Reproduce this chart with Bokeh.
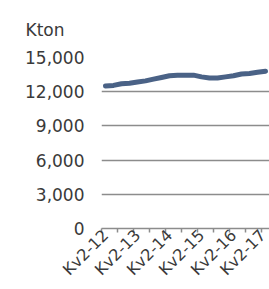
from bokeh.plotting import figure
from bokeh.models import FixedTicker, NumeralTickFormatter, Range1d
from bokeh.embed import file_html
from bokeh.resources import INLINE
import math

quarters = ["Kv2-12", "Kv3-12", "Kv4-12", "Kv1-13", "Kv2-13", "Kv3-13", "Kv4-13",
            "Kv1-14", "Kv2-14", "Kv3-14", "Kv4-14", "Kv1-15", "Kv2-15", "Kv3-15",
            "Kv4-15", "Kv1-16", "Kv2-16", "Kv3-16", "Kv4-16", "Kv1-17", "Kv2-17"]
values = [12500, 12550, 12700, 12750, 12850, 12950, 13100, 13250, 13400, 13450, 13450,
          13450, 13300, 13200, 13200, 13300, 13400, 13550, 13600, 13700, 13800]
y_ticks = [0, 3000, 6000, 9000, 12000, 15000]
label_every = 4
tick_every = 2

xs = list(range(len(quarters)))

p = figure(frame_width=168, frame_height=171, output_backend="svg", toolbar_location=None,
           x_range=Range1d(-0.5, len(quarters) - 0.5), y_range=Range1d(0, 15000),
           min_border_left=101, min_border_right=0, min_border_top=57, min_border_bottom=61,
           title="Kton")
p.outline_line_color = None
p.background_fill_color = "white"
p.border_fill_color = "white"

font = "DejaVu Sans"
txt = "#3a3a3a"

p.title.align = "left"
p.title.offset = -76
p.title.standoff = 35
p.title.text_font = font
p.title.text_font_size = "17px"
p.title.text_font_style = "normal"
p.title.text_color = txt

p.line(xs, values, line_color="#4a6286", line_width=5, line_cap="round", line_join="round")

major = xs[::label_every]
minor = [i - 0.5 for i in range(0, len(quarters), tick_every)]
p.xaxis.ticker = FixedTicker(ticks=major, minor_ticks=minor)
p.xaxis.major_label_overrides = {i: quarters[i] for i in major}
p.xaxis.major_label_orientation = math.pi / 4
p.xaxis.major_tick_out = 0
p.xaxis.major_tick_in = 0
p.xaxis.minor_tick_out = 4
p.xaxis.minor_tick_in = 0
p.xaxis.minor_tick_line_color = "#8c8c8c"
p.xaxis.minor_tick_line_width = 1.5
p.xaxis.axis_line_color = "#8c8c8c"
p.xaxis.axis_line_width = 1.5
p.xaxis.major_label_text_font = font
p.xaxis.major_label_text_font_size = "16px"
p.xaxis.major_label_text_color = txt
p.xaxis.major_label_standoff = 0

p.yaxis.ticker = FixedTicker(ticks=y_ticks)
p.yaxis.formatter = NumeralTickFormatter(format="0,0")
p.yaxis.axis_line_color = None
p.yaxis.major_tick_line_color = None
p.yaxis.minor_tick_line_color = None
p.yaxis.major_label_standoff = 11
p.yaxis.major_label_text_font = font
p.yaxis.major_label_text_font_size = "17px"
p.yaxis.major_label_text_color = txt

p.xgrid.grid_line_color = None
p.ygrid.ticker = FixedTicker(ticks=y_ticks[1:])
p.ygrid.grid_line_color = "#8c8c8c"
p.ygrid.grid_line_width = 1.5

open("out.html", "w").write(file_html(p, INLINE))
